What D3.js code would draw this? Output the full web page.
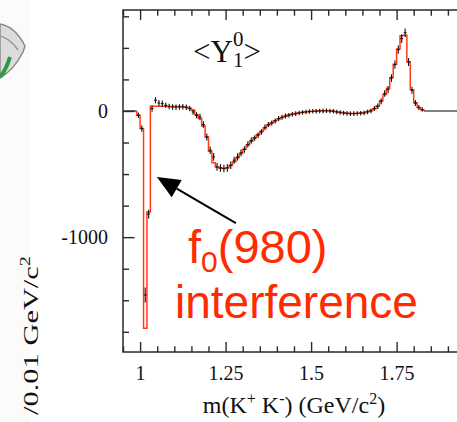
<!DOCTYPE html>
<html><head><meta charset="utf-8">
<script src="https://cdn.jsdelivr.net/npm/d3@7"></script>
<style>html,body{margin:0;padding:0;background:#fff;overflow:hidden}</style>
</head><body>
<svg id="chart" width="457" height="422"></svg>
<script>
// bin centres (GeV/c^2), bin width 0.01
const massBins = [0.995,1.005,1.015,1.025,1.035,1.045,1.055,1.065,1.075,1.085,1.095,1.105,1.115,1.125,1.135,1.145,1.155,1.165,1.175,1.185,1.195,1.205,1.215,1.225,1.235,1.245,1.255,1.265,1.275,1.285,1.295,1.305,1.315,1.325,1.335,1.345,1.355,1.365,1.375,1.385,1.395,1.405,1.415,1.425,1.435,1.445,1.455,1.465,1.475,1.485,1.495,1.505,1.515,1.525,1.535,1.545,1.555,1.565,1.575,1.585,1.595,1.605,1.615,1.625,1.635,1.645,1.655,1.665,1.675,1.685,1.695,1.705,1.715,1.725,1.735,1.745,1.755,1.765,1.775,1.785,1.795,1.805,1.815,1.825];
// fitted <Y_1^0> (red histogram)
const fitValues = [-34,-139,-1722,-800,37,38,38,37,37,36,36,35,35,34,30,22,5,-30,-60,-120,-206,-320,-410,-445,-452,-455,-450,-432,-402,-370,-338,-303,-270,-240,-212,-186,-160,-135,-112,-94,-78,-63,-51,-41,-33,-26,-20,-15,-11,-7,-4,-2,0,1,2,2,1,-2,-6,-11,-15,-18,-20,-20,-19,-16,-12,-5,3,18,40,80,130,180,265,370,490,595,600,390,168,65,28,10];
// data points (black crosses)
const dataValues = [-34,-139,-1458,-817,19,85,63,58,45,35,32,30,32,33,30,19,-8,-34,-47,-108,-206,-311,-364,-443,-451,-456,-451,-430,-390,-364,-332,-305,-265,-235,-215,-192,-166,-130,-108,-95,-79,-60,-50,-40,-34,-26,-21,-16,-12,-8,-5,-3,-2,0,0,2,0,-3,-8,-13,-16,-19,-21,-21,-20,-18,-16,-8,0,19,37,77,138,169,261,367,486,573,620,388,164,63,27,11];
const dataErrors = [22,25,60,35,25,25,24,24,22,22,22,22,22,22,22,22,22,24,24,26,28,30,30,30,30,30,30,30,28,28,26,26,24,24,22,22,22,22,20,20,20,20,20,20,18,18,18,18,18,18,18,18,18,18,18,18,18,18,18,18,18,18,18,18,18,18,18,18,18,20,22,24,26,28,30,32,32,34,34,32,28,24,20,18];
const xMajorTicks = [1, 1.25, 1.5, 1.75];
const xMinorTicks = [0.95,1.05,1.1,1.15,1.2,1.3,1.35,1.4,1.45,1.55,1.6,1.65,1.7,1.8,1.85,1.9];
const yMajorTicks = [0, -1000];
const yMinorTicks = [750,500,250,-250,-500,-750,-1250,-1500,-1750];
const binWidth = 0.01;

const svg = d3.select("#chart");
const x = d3.scaleLinear().domain([0.95, 1.95]).range([123, 465]);
const y = d3.scaleLinear().domain([-1910, 800]).range([352, 10]);

// faint page background at far left + partial logo
svg.append("rect").attr("x",0).attr("y",0).attr("width",30).attr("height",422).attr("fill","#fbfbf9");
svg.append("path").attr("d","M0,24 C12,26 20,36 25,46 L23,52 C18,62 10,72 0,78 Z")
  .attr("fill","#dcdcdc").attr("stroke","#8a8a8a").attr("stroke-width",1.5);
svg.append("path").attr("d","M0,36 C8,38 14,44 18,50").attr("fill","none").attr("stroke","#9a9a9a").attr("stroke-width",1.5);
svg.append("path").attr("d","M0,77 Q6,70 10,57").attr("fill","none").attr("stroke","#2e9a3e").attr("stroke-width",4);

// zero baseline outside the fitted range
const axisCol = "#2a2a2a";
svg.append("line").attr("x1",x(0.95)).attr("x2",x(0.99)).attr("y1",y(0)).attr("y2",y(0))
  .attr("stroke","#555").attr("stroke-width",1.6);
svg.append("line").attr("x1",x(1.83)).attr("x2",x(1.95)).attr("y1",y(0)).attr("y2",y(0))
  .attr("stroke","#555").attr("stroke-width",1.6);

// fit histogram (step)
const stepPts = [[massBins[0]-binWidth/2, 0]];
massBins.forEach((m,i)=>stepPts.push([m-binWidth/2, fitValues[i]]));
stepPts.push([massBins[massBins.length-1]+binWidth/2, fitValues[fitValues.length-1]]);
stepPts.push([massBins[massBins.length-1]+binWidth/2, 0]);
svg.append("path").datum(stepPts)
  .attr("d", d3.line().x(d=>x(d[0])).y(d=>y(d[1])).curve(d3.curveStepAfter))
  .attr("fill","none").attr("stroke","#ff3a14").attr("stroke-width",1.5);

// data crosses
const g = svg.append("g").attr("stroke","#111").attr("stroke-width",1.1);
massBins.forEach((m,i)=>{
  g.append("line").attr("x1",x(m-binWidth/2)+0.3).attr("x2",x(m+binWidth/2)-0.3)
    .attr("y1",y(dataValues[i])).attr("y2",y(dataValues[i]));
  g.append("line").attr("x1",x(m)).attr("x2",x(m))
    .attr("y1",y(dataValues[i]-dataErrors[i])).attr("y2",y(dataValues[i]+dataErrors[i]));
});

// axes (inward ticks)
function styleAxis(sel){ sel.selectAll("path,line").attr("stroke",axisCol).attr("stroke-width",1.4); sel.select(".domain").remove(); }
const fontSerif = "'Liberation Serif','Times New Roman',serif";
const bx = svg.append("g").attr("transform",`translate(0,${y(-1910)})`)
  .call(d3.axisBottom(x).tickValues(xMajorTicks).tickSize(-10).tickPadding(14).tickFormat(d=>d3.format("")(d)));
styleAxis(bx); bx.selectAll("text").attr("font-family",fontSerif).attr("font-size",20).attr("fill","#111");
const bxm = svg.append("g").attr("transform",`translate(0,${y(-1910)})`)
  .call(d3.axisBottom(x).tickValues(xMinorTicks).tickSize(-5.7).tickFormat(""));
styleAxis(bxm);
const tx = svg.append("g").attr("transform",`translate(0,${y(800)})`)
  .call(d3.axisTop(x).tickValues(xMajorTicks).tickSize(-10).tickFormat(""));
styleAxis(tx);
const txm = svg.append("g").attr("transform",`translate(0,${y(800)})`)
  .call(d3.axisTop(x).tickValues(xMinorTicks).tickSize(-5.7).tickFormat(""));
styleAxis(txm);
const ly = svg.append("g").attr("transform",`translate(${x(0.95)},0)`)
  .call(d3.axisLeft(y).tickValues(yMajorTicks).tickSize(-11.5).tickPadding(15).tickFormat(d=>d===0?"0":"-"+Math.abs(d)));
styleAxis(ly); ly.selectAll("text").attr("font-family",fontSerif).attr("font-size",20).attr("fill","#111");
const lym = svg.append("g").attr("transform",`translate(${x(0.95)},0)`)
  .call(d3.axisLeft(y).tickValues(yMinorTicks).tickSize(-6).tickFormat(""));
styleAxis(lym);

// frame
svg.append("rect").attr("x",x(0.95)).attr("y",y(800)).attr("width",x(1.95)-x(0.95)).attr("height",y(-1910)-y(800))
  .attr("fill","none").attr("stroke",axisCol).attr("stroke-width",1.5);

// title <Y_1^0>
const t = svg.append("text").attr("x",193).attr("y",62).attr("font-family",fontSerif).attr("font-size",31).attr("fill","#111");
t.append("tspan").text("<Y");
t.append("tspan").attr("font-size",21).attr("dy",5).text("1");
t.append("tspan").attr("font-size",21).attr("dx",-10.5).attr("dy",-21).text("0");
t.append("tspan").attr("dy",16).text(">");

// x-axis title
const xt = svg.append("text").attr("x",294).attr("y",413).attr("text-anchor","middle")
  .attr("font-family",fontSerif).attr("font-size",24).attr("fill","#111");
xt.append("tspan").text("m(K");
xt.append("tspan").attr("font-size",16).attr("dy",-9).text("+");
xt.append("tspan").attr("dy",9).text(" K");
xt.append("tspan").attr("font-size",16).attr("dy",-9).text("-");
xt.append("tspan").attr("dy",9).text(") (GeV/c");
xt.append("tspan").attr("font-size",16).attr("dy",-9).text("2");
xt.append("tspan").attr("dy",9).text(")");

// y-axis title (only the part visible in the frame)
const yt = svg.append("text").attr("transform","translate(38,256) rotate(-90) scale(1.45,1)")
  .attr("text-anchor","end").attr("font-family",fontSerif).attr("font-size",21).attr("fill","#111");
yt.append("tspan").text("/0.01 GeV/c");
yt.append("tspan").attr("font-size",14).attr("dy",-8).text("2");

// annotation arrow
const arrowTail = [1.28, -888], arrowTip = [1.049, -523];
const x1 = x(arrowTail[0]), y1 = y(arrowTail[1]), x2 = x(arrowTip[0]), y2 = y(arrowTip[1]);
const ang = Math.atan2(y2-y1, x2-x1), hl = 23, hw = 10;
const bxp = x2 - hl*Math.cos(ang), byp = y2 - hl*Math.sin(ang);
svg.append("line").attr("x1",x1).attr("y1",y1).attr("x2",bxp).attr("y2",byp).attr("stroke","#000").attr("stroke-width",2);
svg.append("path").attr("d",`M${x2},${y2} L${bxp+hw*Math.sin(ang)},${byp-hw*Math.cos(ang)} L${bxp-hw*Math.sin(ang)},${byp+hw*Math.cos(ang)} Z`).attr("fill","#000");

// red annotation text
const fontSans = "'Liberation Sans',Arial,sans-serif";
const a1 = svg.append("text").attr("x",188).attr("y",263).attr("font-family",fontSans).attr("font-size",47).attr("fill","#ff2a00");
a1.append("tspan").text("f");
a1.append("tspan").attr("font-size",30).attr("dy",9).text("0");
a1.append("tspan").attr("dy",-9).text("(980)");
svg.append("text").attr("x",175).attr("y",318).attr("font-family",fontSans).attr("font-size",46).attr("fill","#ff2a00").text("interference");
</script>
</body></html>
